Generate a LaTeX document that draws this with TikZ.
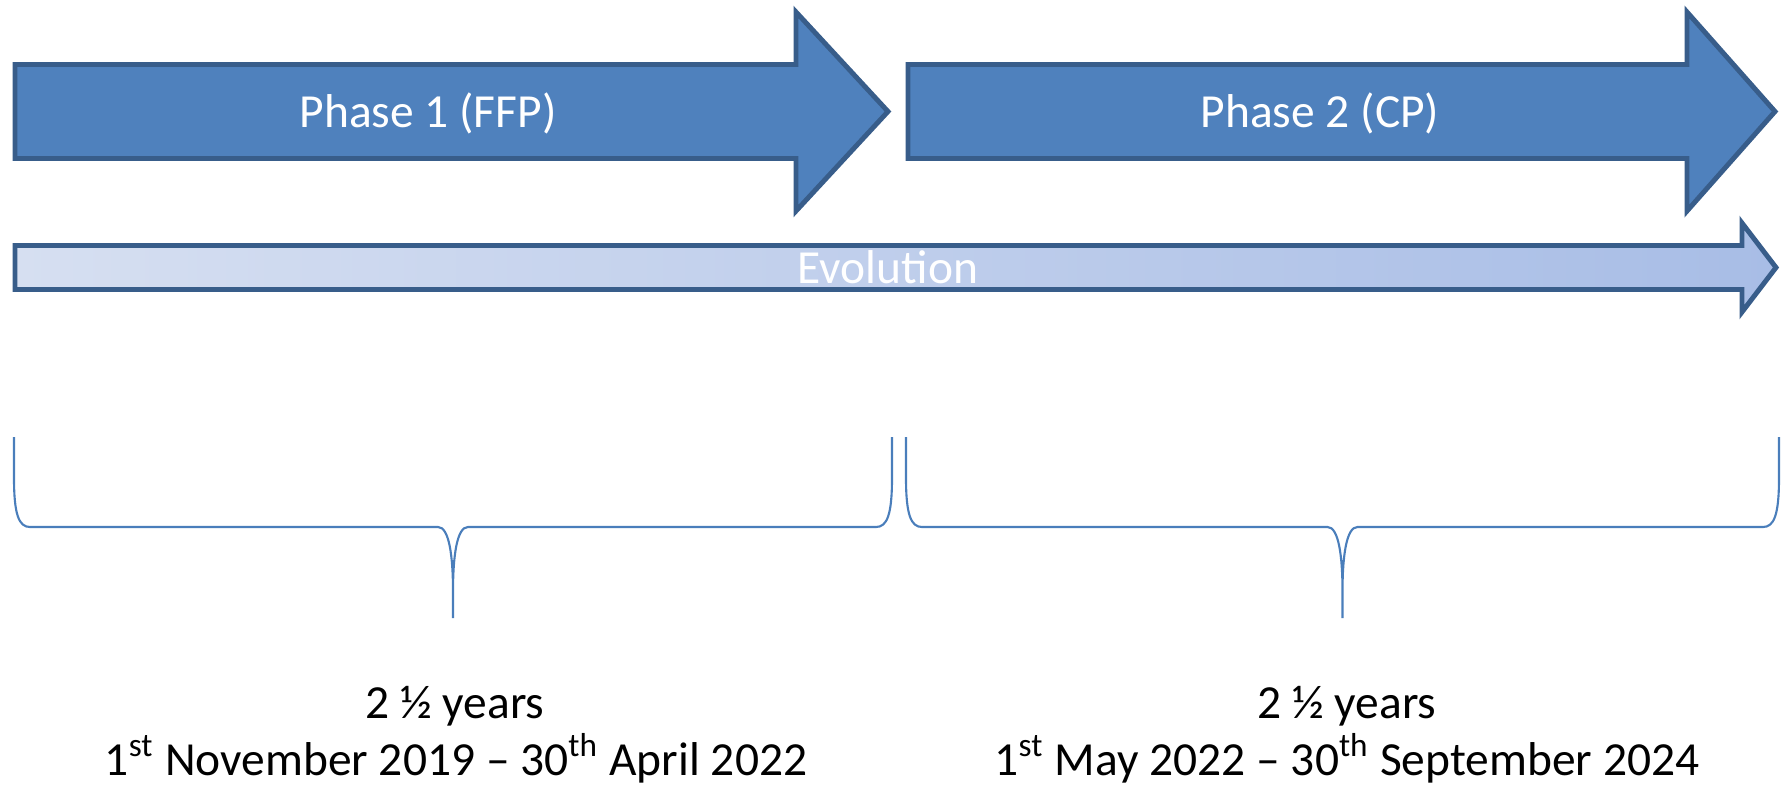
\documentclass[tikz,border=0pt]{standalone}
\usepackage{fontspec}
\setmainfont{Carlito}
\usepackage{tikz}

\definecolor{phasefill}{HTML}{4F81BD}
\definecolor{phaseline}{HTML}{385D8A}
\definecolor{evolleft}{RGB}{214,223,241}
\definecolor{evolright}{RGB}{168,189,230}
\definecolor{braceline}{HTML}{4A7EBB}

\begin{document}
\begin{tikzpicture}[x=0.01cm, y=-0.01cm,
	phasearrow/.style={fill=phasefill, draw=phaseline, line width=1.4pt, line join=miter},
	evolarrow/.style={left color=evolleft, right color=evolright, draw=phaseline, line width=1.4pt, line join=miter},
	bracestyle/.style={draw=braceline, line width=0.6pt},
	lbl/.style={font=\fontsize{13.5}{16}\selectfont, anchor=base, inner sep=0pt}]
	\useasboundingbox (0,0) rectangle (1781,784);

	% phases
	\draw[phasearrow] (15,64.5) -- (796,64.5) -- (796,12) -- (888,111.5) -- (796,211) -- (796,158.5) -- (15,158.5) -- cycle;
	\draw[phasearrow] (908,64.5) -- (1687,64.5) -- (1687,12) -- (1775,111.5) -- (1687,211) -- (1687,158.5) -- (908,158.5) -- cycle;

	\node[lbl, text=white] (ph1) at (428,127) {Phase 1 (FFP)};
	\node[lbl, text=white] (ph2) at (1320,127) {Phase 2 (CP)};

	% evolution bar
	\draw[evolarrow] (15,245.5) -- (1742,245.5) -- (1742,223) -- (1776,267.5) -- (1742,312) -- (1742,289.5) -- (15,289.5) -- cycle;
	\node[lbl, text=white] (evol) at (888,283) {Evolution};

	% braces
	\foreach \a/\b/\m in {14/892/453, 906/1779/1342.5}
		\draw[bracestyle] (\a,437) -- (\a,478) .. controls (\a,515) and (\a+5,527) .. (\a+16,527)
			-- (\m-15,527) .. controls (\m-4,527) and (\m,555) .. (\m,592) -- (\m,618)
			(\m,592) .. controls (\m,555) and (\m+4,527) .. (\m+15,527)
			-- (\b-16,527) .. controls (\b-5,527) and (\b,515) .. (\b,478) -- (\b,437);

	\node[lbl] (dur1) at (455,718) {2 ½ years};
	\node[lbl] (date1) at (456,775) {1\textsuperscript{st} November 2019 -- 30\textsuperscript{th} April 2022};
	\node[lbl] (dur2) at (1347,718) {2 ½ years};
	\node[lbl] (date2) at (1347,775) {1\textsuperscript{st} May 2022 -- 30\textsuperscript{th} September 2024};

\end{tikzpicture}
\end{document}
